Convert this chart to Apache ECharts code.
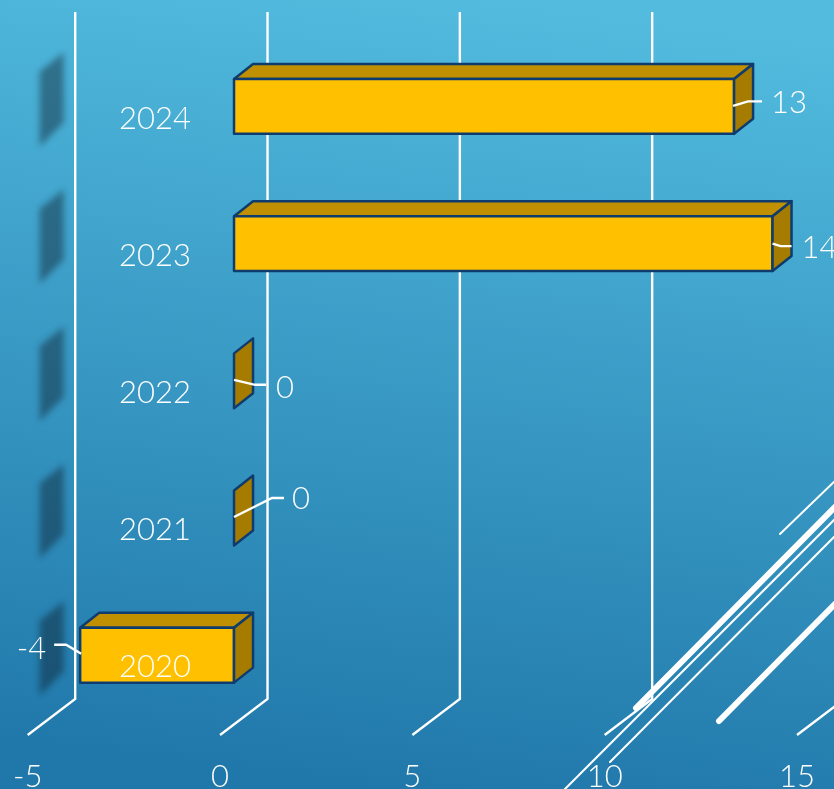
<!DOCTYPE html>
<html>
<head>
<meta charset="utf-8">
<style>
  html, body { margin: 0; padding: 0; background: #2f8dbb; }
  #chart { width: 834px; height: 789px; overflow: hidden; }
</style>
<script src="https://cdn.jsdelivr.net/npm/echarts@6/dist/echarts.min.js"></script>
</head>
<body>
<div id="chart"></div>
<script>
const years = ['2020', '2021', '2022', '2023', '2024'];
const yearValues = [-4, 0, 0, 14, 13];
const xTicks = [-5, 0, 5, 10, 15];

// leader line points and label spot, relative to the bar end, same order as years
const leaderPoints = [
  [[1, -1.5], [-14, -10.5], [-26, -10.5]],
  [[0, -1], [38, -20], [50, -20]],
  [[0, -1], [21, 4], [32, 4]],
  [[0, 0], [8, 2.5], [19, 2.5]],
  [[-1, -0.5], [14, -5], [28, -5]]
];
const labelSpots = [[-34, -6], [58, -19], [42, 7], [29, 4], [37, -3]];

const FONT = 'Lato';
const WHITE = '#ffffff';
const DEPTH_X = 47.5, DEPTH_Y = 36;     // wall depth
const BAR_DX = 19, BAR_DY = 15;         // bar depth
const BAR_OFFSET_X = 14, BAR_OFFSET_Y = 12.2;

function renderWall(params, api) {
  const p = api.coord([api.value(0), 0]);
  const bottom = p[1] + api.size([0, 1])[1] / 2 - 1;
  return {
    type: 'polyline',
    shape: { points: [[p[0], bottom], [p[0] + DEPTH_X, bottom - DEPTH_Y], [p[0] + DEPTH_X, 12]] },
    style: { fill: null, stroke: WHITE, lineWidth: 2.4 }
  };
}

// only the blurred shadow shows, the shape itself sits off the canvas
function renderShade(params, api) {
  const p = api.coord([-5, api.value(1)]);
  const away = 2000;
  const x0 = p[0] + 12 - away, x1 = p[0] + 36 - away, y = p[1];
  return {
    type: 'polygon',
    shape: { points: [[x0, y - 47], [x1, y - 66], [x1, y + 4], [x0, y + 28]] },
    style: { fill: '#000', shadowBlur: 6, shadowOffsetX: away, shadowColor: 'rgba(12,24,36,0.42)' }
  };
}

function renderBar(params, api) {
  const v = api.value(0);
  const c0 = api.coord([0, api.value(1)]);
  const c1 = api.coord([v, api.value(1)]);
  const h = api.size([0, 1])[1] * 0.4;
  const left = Math.min(c0[0], c1[0]) + BAR_OFFSET_X;
  const right = Math.max(c0[0], c1[0]) + BAR_OFFSET_X;
  const top = c0[1] - BAR_OFFSET_Y - h / 2;
  const bottom = top + h;
  const edge = { stroke: '#0f3c6e', lineWidth: 2.5, lineJoin: 'round' };
  const children = [];
  if (right - left > 0.5) {
    children.push({
      type: 'polygon',
      shape: { points: [[left, top], [left + BAR_DX, top - BAR_DY], [right + BAR_DX, top - BAR_DY], [right, top]] },
      style: Object.assign({ fill: '#c09000' }, edge)
    });
    children.push({
      type: 'rect',
      shape: { x: left, y: top, width: right - left, height: h },
      style: Object.assign({ fill: '#ffc000' }, edge)
    });
  }
  children.push({
    type: 'polygon',
    shape: { points: [[right, top], [right + BAR_DX, top - BAR_DY], [right + BAR_DX, bottom - BAR_DY], [right, bottom]] },
    style: Object.assign({ fill: '#a67c00' }, edge)
  });
  return { type: 'group', children: children };
}

function renderLabel(params, api) {
  const i = params.dataIndex;
  const v = api.value(0);
  const c = api.coord([v, api.value(1)]);
  const x = c[0] + BAR_OFFSET_X;
  const y = c[1] - BAR_OFFSET_Y;
  const spot = labelSpots[i];
  return {
    type: 'group',
    children: [
      {
        type: 'polyline',
        shape: { points: leaderPoints[i].map(function (q) { return [x + q[0], y + q[1]]; }) },
        style: { fill: null, stroke: WHITE, lineWidth: 2.4 }
      },
      {
        type: 'text',
        style: {
          x: x + spot[0],
          y: y + spot[1],
          text: String(v),
          fill: WHITE,
          font: '300 31px ' + FONT,
          textAlign: v < 0 ? 'right' : 'left',
          textVerticalAlign: 'middle'
        }
      }
    ]
  };
}

function streak(x1, y1, x2, y2, w) {
  return {
    type: 'line',
    z: 0,
    shape: { x1: x1, y1: y1, x2: x2, y2: y2 },
    style: { stroke: WHITE, lineWidth: w, lineCap: 'round' }
  };
}

const rows = yearValues.map(function (v, i) { return [v, i]; });

const chart = echarts.init(document.getElementById('chart'), null, { renderer: 'canvas' });
chart.setOption({
  animation: false,
  backgroundColor: new echarts.graphic.LinearGradient(0.58, 0, 0.46, 1, [
    { offset: 0, color: '#52bbde' },
    { offset: 1, color: '#2078aa' }
  ]),
  textStyle: { fontFamily: FONT },
  graphic: [
    streak(780, 534, 840, 476, 2),
    streak(636, 708, 840, 502, 6),
    streak(565, 789, 840, 514, 2),
    streak(610, 762, 840, 531, 2),
    streak(719, 721, 840, 599, 6)
  ],
  grid: { left: 27.7, right: 37, top: 50, bottom: 53, outerBoundsMode: 'none', containLabel: false },
  xAxis: {
    type: 'value',
    min: xTicks[0],
    max: xTicks[xTicks.length - 1],
    interval: 5,
    axisLine: { show: false },
    axisTick: { show: false },
    splitLine: { show: false },
    axisLabel: {
      color: WHITE,
      fontFamily: FONT,
      fontWeight: 300,
      fontSize: 31,
      margin: 25,
      showMinLabel: true,
      showMaxLabel: true
    }
  },
  yAxis: {
    type: 'category',
    data: years,
    z: 10,
    offset: -192.3,
    axisLine: { show: false, onZero: false },
    axisTick: { show: false },
    splitLine: { show: false },
    axisLabel: {
      color: WHITE,
      fontFamily: FONT,
      fontWeight: 300,
      fontSize: 31,
      margin: 29
    }
  },
  series: [
    {
      type: 'custom',
      name: 'walls',
      clip: false,
      silent: true,
      z: 2,
      renderItem: renderWall,
      encode: { x: 0, y: 1 },
      data: xTicks.map(function (t) { return [t, 0]; })
    },
    {
      type: 'custom',
      name: 'shade',
      clip: false,
      silent: true,
      z: 3,
      renderItem: renderShade,
      encode: { x: 0, y: 1 },
      data: rows
    },
    {
      type: 'custom',
      name: 'bars',
      clip: false,
      z: 4,
      renderItem: renderBar,
      encode: { x: 0, y: 1 },
      data: rows
    },
    {
      type: 'custom',
      name: 'labels',
      clip: false,
      silent: true,
      z: 5,
      renderItem: renderLabel,
      encode: { x: 0, y: 1 },
      data: rows
    }
  ]
});
</script>
</body>
</html>
